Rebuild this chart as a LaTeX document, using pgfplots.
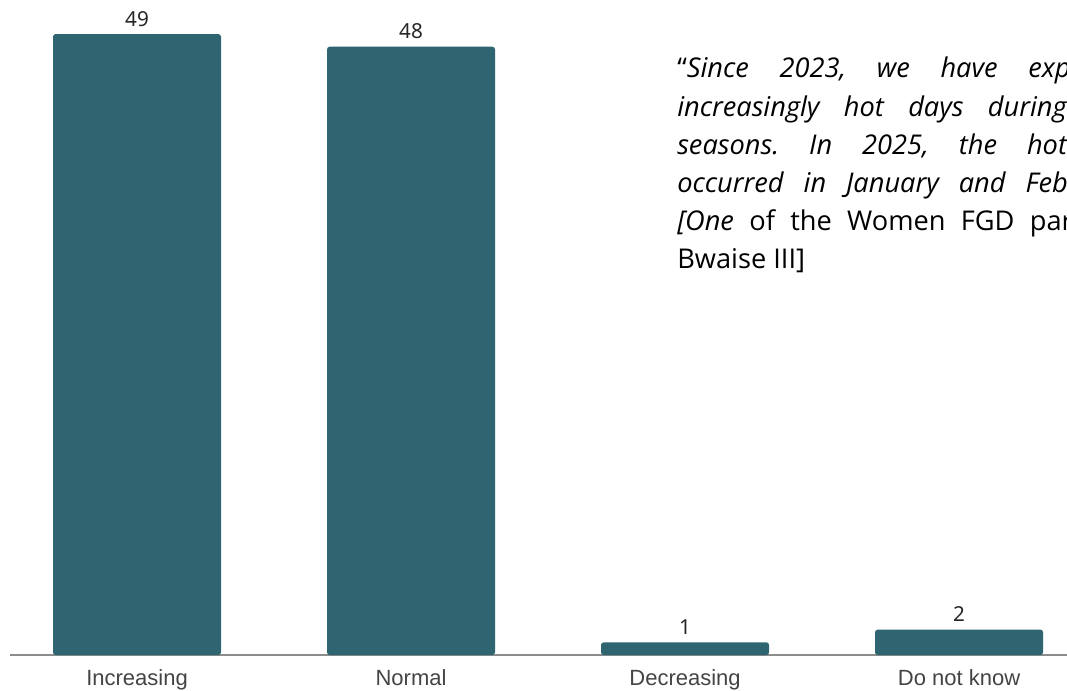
\documentclass[border=0pt]{standalone}
\usepackage{pgfplots}
\pgfplotsset{compat=1.18}
\usepackage{fontspec}
\setmainfont{Liberation Sans}
\newfontfamily\quotefont{Open Sans}
\newfontfamily\numfont{Noto Sans}
\definecolor{barcol}{HTML}{2E6570}
\definecolor{tickcol}{HTML}{444444}
\frenchspacing
\begin{document}
\begin{tikzpicture}[x=1pt,y=1pt]
\begin{axis}[
  at={(7.5pt,26.25pt)}, anchor=south west,
  scale only axis, width=792.75pt, height=475.2pt,
  xmin=-0.4635, xmax=3.394, ymin=0, ymax=50,
  axis x line*=bottom, axis y line=none,
  x axis line style={-, draw=black!45, line width=1pt},
  xtick={0,1,2,3}, xticklabels={Increasing,Normal,Decreasing,Do not know},
  major tick length=0pt,
  xticklabel style={font=\fontsize{16.5}{18}\selectfont, text=tickcol, anchor=base, yshift=-22.5pt},
  ytick=\empty,
  ybar, bar width=126pt,
  nodes near coords,
  /pgf/number format/assume math mode=true,
  every node near coord/.append style={font=\numfont\fontsize{15.5}{17}\selectfont, text=black!85, anchor=base, inner sep=0pt, yshift=6pt},
  clip=false,
]
\addplot[fill=barcol, draw=none, rounded corners=2pt] coordinates {(0,49) (1,48) (2,1) (3,2)};
\end{axis}
\begin{scope}[font=\quotefont\fontsize{20.4}{24}\selectfont]
\node[anchor=base west, inner sep=0] at (507.75pt, {(690-78)*0.75}) {\spaceskip=23pt\relax “\textit{Since 2023, we have experienced}};
\node[anchor=base west, inner sep=0] at (507.75pt, {(690-116.2)*0.75}) {\spaceskip=18.3pt\relax \textit{increasingly hot days during the dry}};
\node[anchor=base west, inner sep=0] at (507.75pt, {(690-154.4)*0.75}) {\spaceskip=22.5pt\relax \textit{seasons. In 2025, the hottest days}};
\node[anchor=base west, inner sep=0] at (507.75pt, {(690-192.6)*0.75}) {\spaceskip=15pt\relax \textit{occurred in January and February.}”};
\node[anchor=base west, inner sep=0] at (507.75pt, {(690-230.8)*0.75}) {\spaceskip=11.5pt\relax \textit{[One} of the Women FGD participants,};
\node[anchor=base west, inner sep=0] at (507.75pt, {(690-269)*0.75}) {Bwaise III]};
\end{scope}
\pgfresetboundingbox
\useasboundingbox (0,0) rectangle (800.25pt,517.5pt);
\end{tikzpicture}
\end{document}
